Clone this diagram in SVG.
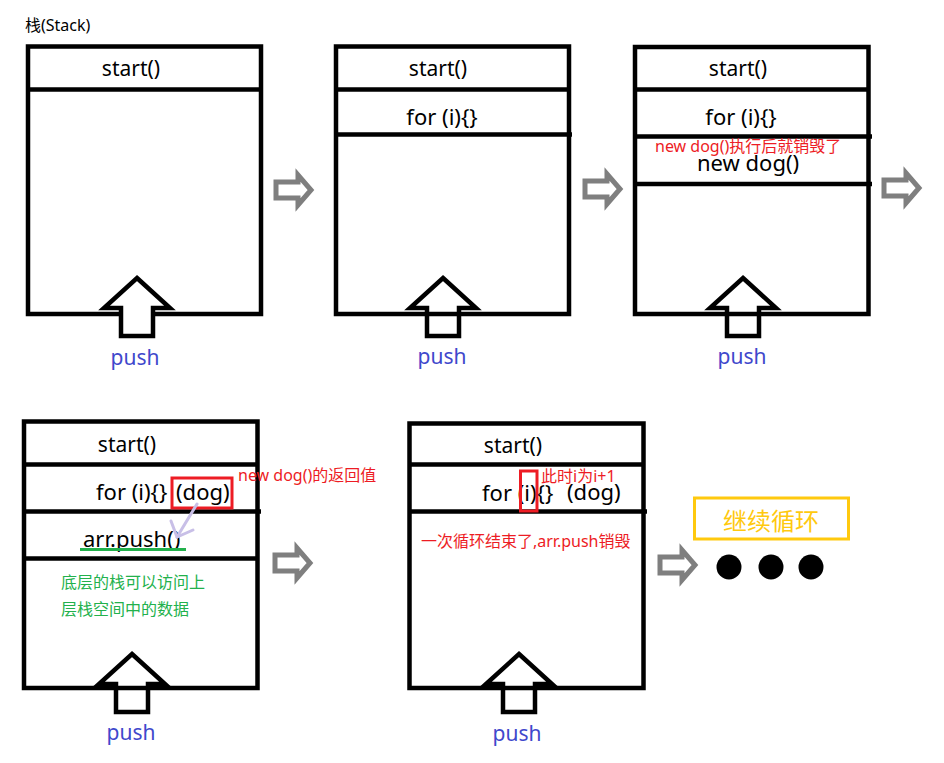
<svg xmlns="http://www.w3.org/2000/svg" xmlns:xlink="http://www.w3.org/1999/xlink" width="944" height="763" viewBox="0 0 944 763">
<style>
text{font-family:"Noto Sans","Noto Sans CJK SC",sans-serif}
.frame{fill:none;stroke:#000;stroke-width:4.5}
.div{stroke:#000;stroke-width:4.5}
.code{font-size:21px;fill:#000}
.big{font-size:22px;fill:#000}
.push{font-size:21px;fill:#3f48cc;text-anchor:middle}
.red{font-size:16px;fill:#ed1c24}
.green{font-size:16px;fill:#22b14c}
.mid{text-anchor:middle}
.parrow{fill:none;stroke:#000;stroke-width:4.5;stroke-linejoin:miter}
.garrow{fill:none;stroke:#7f7f7f;stroke-width:5;stroke-linejoin:miter}
.redbox{fill:none;stroke:#ed1c24;stroke-width:3}
</style>
<defs>
<path id="pushArrow" d="M0,0 L33,30 L16,30 L16,58 L-16,58 L-16,30 L-33,30 Z"/>
<path id="nextArrow" d="M0,-8 H22 V-15 L35,0 L22,15 V8 H0 Z"/>
</defs>
<rect width="944" height="763" fill="#fff"/>
<text x="25" y="31" style="font-size:16px;fill:#000">栈(Stack)</text>

<g id="stack1">
<rect class="frame" x="28" y="46.5" width="233" height="267.5"/>
<line class="div" x1="28" y1="89.5" x2="261" y2="89.5"/>
<text class="code mid" x="131" y="76">start()</text>
<use href="#pushArrow" class="parrow" style="fill:#fff" x="137" y="278"/>
<text class="push" x="135" y="365">push</text>
</g>

<g id="stack2">
<rect class="frame" x="336" y="46.5" width="233" height="267.5"/>
<line class="div" x1="336" y1="89.5" x2="569" y2="89.5"/>
<line class="div" x1="336" y1="134.5" x2="572" y2="134.5"/>
<text class="code mid" x="438" y="76">start()</text>
<text class="big mid" x="442" y="125">for (i){}</text>
<use href="#pushArrow" class="parrow" x="443" y="278"/>
<text class="push" x="442" y="364">push</text>
</g>

<g id="stack3">
<rect class="frame" x="635" y="47" width="233.5" height="267"/>
<line class="div" x1="635" y1="89.5" x2="868" y2="89.5"/>
<line class="div" x1="635" y1="136.5" x2="872" y2="136.5"/>
<line class="div" x1="635" y1="184" x2="872" y2="184"/>
<text class="code mid" x="738" y="76">start()</text>
<text class="big mid" x="741" y="125">for (i){}</text>
<text class="big" x="697" y="171">new dog()</text>
<text class="red" x="655" y="152">new dog()执行后就销毁了</text>
<use href="#pushArrow" class="parrow" x="743" y="278"/>
<text class="push" x="742" y="364">push</text>
</g>

<g id="stack4">
<rect class="frame" x="24" y="421.5" width="233.5" height="266.5"/>
<line class="div" x1="24" y1="464.5" x2="257.5" y2="464.5"/>
<line class="div" x1="24" y1="511.5" x2="261" y2="511.5"/>
<line class="div" x1="24" y1="558.5" x2="257.5" y2="558.5"/>
<text class="code mid" x="127" y="452">start()</text>
<text class="big" x="96" y="500">for (i){}</text>
<text class="big" x="176" y="500">(dog)</text>
<rect class="redbox" x="172" y="478" width="60" height="30"/>
<text class="red" x="238" y="481">new dog()的返回值</text>
<text class="big" x="83" y="547">arr.push()</text>
<line x1="80" y1="549.5" x2="186" y2="549.5" stroke="#22b14c" stroke-width="3"/>
<text class="green" x="61" y="588">底层的栈可以访问上</text>
<text class="green" x="61" y="615">层栈空间中的数据</text>
<use href="#pushArrow" class="parrow" x="132" y="654"/>
<text class="push" x="131" y="740">push</text>
</g>

<g id="stack5">
<rect class="frame" x="409.5" y="423.5" width="234" height="264.5"/>
<line class="div" x1="409.5" y1="464.5" x2="643.5" y2="464.5"/>
<line class="div" x1="409.5" y1="511.5" x2="647" y2="511.5"/>
<text class="code mid" x="513" y="453">start()</text>
<text class="big" x="482" y="501">for (i){}</text>
<text class="big" x="567" y="500">(dog)</text>
<rect class="redbox" x="520.5" y="471" width="16.5" height="40"/>
<text class="red" x="541" y="482">此时i为i+1</text>
<text class="red" x="421" y="547">一次循环结束了,arr.push销毁</text>
<use href="#pushArrow" class="parrow" x="519" y="654"/>
<text class="push" x="517" y="741">push</text>
</g>

<g id="continue">
<rect x="694.5" y="498" width="154" height="41" fill="none" stroke="#ffc90e" stroke-width="3"/>
<text x="771" y="530" class="mid" style="font-size:24px;fill:#ffc90e">继续循环</text>
<circle cx="729" cy="567" r="12.5" fill="#000"/>
<circle cx="771" cy="567" r="12.5" fill="#000"/>
<circle cx="811" cy="567" r="12.5" fill="#000"/>
</g>

<g id="connectors">
<use href="#nextArrow" class="garrow" x="276" y="190"/>
<use href="#nextArrow" class="garrow" x="585" y="189"/>
<use href="#nextArrow" class="garrow" x="884" y="188"/>
<use href="#nextArrow" class="garrow" x="275" y="563"/>
<use href="#nextArrow" class="garrow" x="660" y="565"/>
<g stroke="#c8bfe7" stroke-width="3" fill="none" stroke-linecap="round">
<line x1="197" y1="504" x2="177" y2="537"/>
<polyline points="171,521 177,537 193,530"/>
</g>
</g>
</svg>
